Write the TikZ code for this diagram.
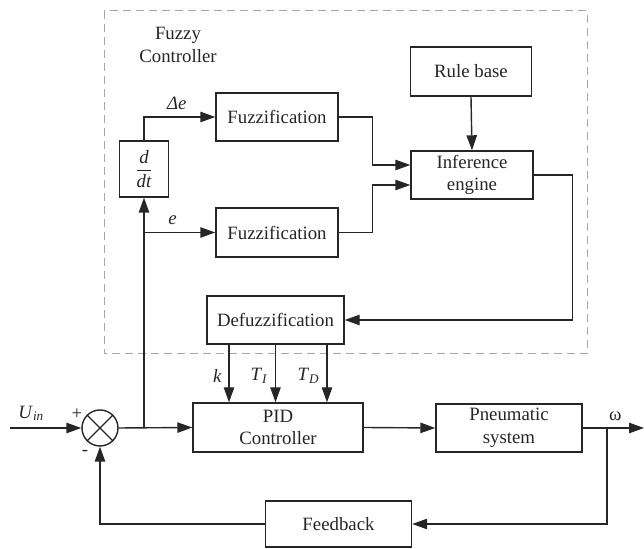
\documentclass[tikz,border=0pt]{standalone}
\usepackage{fontspec}
\setmainfont{Liberation Serif}
\usetikzlibrary{arrows.meta,positioning,calc}

\begin{document}
\begin{tikzpicture}[x=0.5pt, y=-0.5pt,
  every node/.style={font=\fontsize{9.4}{11.3}\selectfont, text=black!85},
  block/.style={draw=black!85, line width=0.7pt, fill=white, align=center, inner sep=0pt},
  wire/.style={draw=black!85, line width=0.7pt},
  arr/.style={wire, -{Triangle[length=7.5pt,width=5.2pt]}},
  fuzzybox/.style={draw=black!35, line width=0.5pt, dash pattern=on 4pt off 2.5pt}]
  \useasboundingbox (0,0) rectangle (644,549);

  % Fuzzy controller frame
  \draw[fuzzybox] (104,11) rectangle (587,354);
  \node[align=center] (fctitle) at (178,45) {Fuzzy\\Controller};

  % Blocks
  \node[block, minimum width=60.5pt, minimum height=24.5pt] (rule) at (471,71.5) {Rule base};
  \node[block, minimum width=61pt, minimum height=24pt] (infer) at (472,175) {Inference\\engine};
  \node[block, minimum width=61pt, minimum height=24pt] (fuzzA) at (277,117) {Fuzzification};
  \node[block, minimum width=61pt, minimum height=24.5pt] (fuzzB) at (277,232.5) {Fuzzification};
  \node[block, minimum width=24.5pt, minimum height=28pt] (ddt) at (144,169) {$\displaystyle\frac{\textit{d}}{\textit{dt}}$};
  \node[block, minimum width=68.5pt, minimum height=24pt] (defuzz) at (275.5,320) {Defuzzification};
  \node[block, minimum width=85pt, minimum height=24.5pt] (pid) at (278,427.5) {PID\\Controller};
  \node[block, minimum width=73pt, minimum height=24pt] (pneu) at (509,428) {Pneumatic\\system};
  \node[block, minimum width=73pt, minimum height=23pt] (fb) at (338.5,524) {Feedback};

  % Summing point
  \node[circle, draw=black!85, line width=0.7pt, minimum size=18pt, inner sep=0pt] (sum) at (100,428) {};
  \draw[wire] (sum.north west) -- (sum.south east) (sum.north east) -- (sum.south west);
  \node (plus) at ([shift={(-11.5pt,7pt)}]sum.center) {+};
  \node (minus) at ([shift={(-7.5pt,-12.5pt)}]sum.center) {-};

  \coordinate (uin) at (10,428);
  \coordinate (br) at (144,428);
  \coordinate (eb) at (144,232.5);
  \coordinate (out) at (644,428);
  \coordinate (fbr) at (607,428);

  % Forward path
  \draw[arr] (uin) -- node[above, pos=0.3] {\textit{U}\textsubscript{\textit{in}}} (sum.west);
  \draw[arr] (sum.east) -- (pid.west);
  \draw[arr] (pid.east) -- (pneu.west);
  \draw[arr] (pneu.east) -- node[above, pos=0.53] {ω} (out);

  % Feedback path
  \draw[arr] (fbr) |- (fb.east);
  \draw[arr] (fb.west) -| (sum.south);

  % Error and its derivative
  \draw[arr] (br) -- (ddt.south);
  \draw[arr] (eb) -- node[above, pos=0.4] {\textit{e}} (fuzzB.west);
  \draw[arr] (ddt.north) |- node[above, pos=0.73] {\textit{Δe}} (fuzzA.west);

  % Fuzzy inference
  \draw[arr] (fuzzA.east) -- ++(34,0) |- ([yshift=5pt]infer.west);
  \draw[arr] (fuzzB.east) -- ++(34,0) |- ([yshift=-5pt]infer.west);
  \draw[arr] (rule.south) -- (infer.north);
  \draw[arr] (infer.east) -- ++(39,0) |- (defuzz.east);

  % Gains to PID
  \draw[arr] ([xshift=-23.25pt]defuzz.south) -- node[left, pos=0.54] {\textit{k}} ([xshift=-23.25pt]defuzz.south |- pid.north);
  \draw[arr] (defuzz.south) -- node[left, pos=0.54] {\textit{T}\textsubscript{\textit{I}}} (defuzz.south |- pid.north);
  \draw[arr] ([xshift=25.75pt]defuzz.south) -- node[left, pos=0.54] {\textit{T}\textsubscript{\textit{D}}} ([xshift=25.75pt]defuzz.south |- pid.north);
\end{tikzpicture}
\end{document}
